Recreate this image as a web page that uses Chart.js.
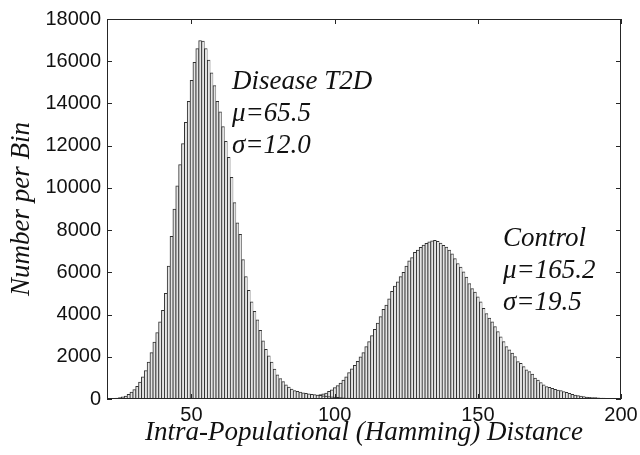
<!DOCTYPE html>
<html>
<head>
<meta charset="utf-8">
<script src="https://cdn.jsdelivr.net/npm/chart.js@4.4.1/dist/chart.umd.min.js"></script>
<style>
  body { margin: 0; background: #fff; }
  canvas { display: block; }
</style>
</head>
<body>
<canvas id="histChart" width="640" height="455"></canvas>
<script>
// histogram counts per unit bin, first bin is at distance 21
const binStart = 21;
const disease = [
  10, 20, 30, 45, 70, 100, 140, 220, 330, 450,
  600, 800, 1050, 1350, 1750, 2200, 2700, 3150, 3650, 4200,
  5000, 6300, 7700, 9000, 10100, 11100, 12100, 13100, 14100, 15100,
  15950, 16600, 16980, 16950, 16600, 16050, 15450, 14850, 14100, 13600,
  12900, 12200, 11450, 10500, 9300, 8350, 7800, 6600, 5800, 5150,
  4600, 4150, 3750, 3250, 2750, 2350, 2050, 1750, 1420, 1150,
  970, 820, 670, 560, 470, 400, 360, 330, 290, 265,
  245, 225, 205, 190, 170, 155, 140, 120, 105, 90,
  75, 65, 55, 48, 42, 36, 32, 28, 25, 22,
  20, 18, 16, 15, 14, 13, 12, 11, 10, 10,
  9, 9, 8, 8, 8, 7, 7, 7, 6, 6,
  6, 5, 5, 5, 5, 4, 4, 4, 4, 3,
  3, 3, 3, 3, 2, 2, 2, 2, 2, 2,
  1, 1, 1, 1, 1, 1, 1, 1, 1, 1,
  0, 0, 0, 0, 0, 0, 0, 0, 0, 0,
  0, 0, 0, 0, 0, 0, 0, 0, 0, 0,
  0, 0, 0, 0, 0, 0, 0, 0, 0, 0,
  0, 0, 0, 0, 0, 0, 0, 0, 0, 0
];
const control = [
  0, 0, 0, 0, 1, 1, 1, 1, 1, 1,
  1, 2, 2, 2, 2, 2, 3, 3, 3, 3,
  3, 4, 4, 4, 5, 5, 5, 6, 6, 7,
  7, 8, 8, 9, 10, 10, 11, 12, 13, 14,
  15, 16, 17, 18, 20, 21, 23, 25, 27, 29,
  31, 33, 36, 39, 42, 45, 48, 52, 56, 60,
  64, 68, 73, 78, 83, 88, 93, 97, 100, 105,
  120, 140, 160, 185, 210, 240, 280, 360, 440, 540,
  640, 750, 900, 1050, 1250, 1430, 1600, 1780, 2000, 2200,
  2480, 2720, 3000, 3300, 3600, 3900, 4250, 4450, 4750, 5100,
  5350, 5550, 5800, 6000, 6300, 6550, 6700, 6950, 7050, 7180,
  7290, 7370, 7440, 7490, 7520, 7470, 7390, 7280, 7200, 7050,
  6880, 6650, 6420, 6250, 6020, 5780, 5470, 5230, 5070, 4840,
  4600, 4300, 4050, 3830, 3660, 3430, 3190, 2950, 2720, 2480,
  2330, 2170, 2010, 1770, 1690, 1530, 1380, 1300, 1180, 990,
  900, 780, 670, 590, 550, 500, 460, 425, 395, 350,
  315, 270, 225, 190, 160, 140, 115, 95, 80, 68,
  62, 55, 48, 45, 35, 33, 32, 28, 18, 14
];
const bins = disease.map((_, i) => binStart + i);

const xTicks = [50, 100, 150, 200];
const yTicks = [0, 2000, 4000, 6000, 8000, 10000, 12000, 14000, 16000, 18000];

const diseaseNotes = ['Disease T2D', '\u03bc=65.5', '\u03c3=12.0'];
const controlNotes = ['Control', '\u03bc=165.2', '\u03c3=19.5'];

const toPoints = (vals) => vals.map((v, i) => ({ x: bins[i], y: v }));

const barStyle = {
  backgroundColor: '#e4e4e4',
  borderColor: '#303030',
  borderWidth: { top: 1, left: 1, right: 0.5, bottom: 0 },
  borderSkipped: false,
  barPercentage: 1,
  categoryPercentage: 1,
  grouped: false
};

// box round the plot and inward ticks on all four sides, plus the notes
const frame = {
  id: 'frame',
  afterDraw(chart) {
    const { ctx, chartArea: a, scales: { x, y } } = chart;
    ctx.save();
    ctx.strokeStyle = '#262626';
    ctx.lineWidth = 1;
    ctx.strokeRect(Math.round(a.left) + 0.5, Math.round(a.top) + 0.5,
      Math.round(a.right - a.left) - 1, Math.round(a.bottom - a.top) - 1);
    ctx.beginPath();
    xTicks.forEach(v => {
      const px = Math.round(x.getPixelForValue(v)) + 0.5;
      ctx.moveTo(px, a.bottom); ctx.lineTo(px, a.bottom - 5);
      ctx.moveTo(px, a.top); ctx.lineTo(px, a.top + 5);
    });
    yTicks.forEach(v => {
      const py = Math.round(y.getPixelForValue(v)) + 0.5;
      ctx.moveTo(a.left, py); ctx.lineTo(a.left + 5, py);
      ctx.moveTo(a.right, py); ctx.lineTo(a.right - 5, py);
    });
    ctx.stroke();

    ctx.fillStyle = '#111';
    ctx.font = 'italic 27px "Liberation Serif"';
    ctx.textBaseline = 'alphabetic';
    diseaseNotes.forEach((t, i) => ctx.fillText(t, 232, 89 + i * 32));
    controlNotes.forEach((t, i) => ctx.fillText(t, 503, 246 + i * 32));
    ctx.restore();
  }
};

const ctx = document.getElementById('histChart').getContext('2d');
const histChart = new Chart(ctx, {
  type: 'bar',
  data: {
    datasets: [
      { label: 'Disease T2D', data: toPoints(disease), ...barStyle },
      { label: 'Control', data: toPoints(control), ...barStyle }
    ]
  },
  options: {
    responsive: false,
    animation: false,
    layout: { padding: { left: 0, right: 19, top: 19, bottom: 0 } },
    plugins: { legend: { display: false }, tooltip: { enabled: false } },
    scales: {
      x: {
        type: 'linear',
        min: 20.5,
        max: 200,
        offset: false,
        grid: { display: false, drawTicks: false },
        border: { display: false },
        afterBuildTicks: (s) => { s.ticks = xTicks.map(v => ({ value: v })); },
        afterFit: (s) => { s.height = 56; s.paddingLeft = 0; s.paddingRight = 0; },
        ticks: {
          color: '#111',
          padding: 4,
          maxRotation: 0,
          callback: (v) => String(v),
          font: { family: '"Liberation Sans", Arial', size: 20 }
        },
        title: {
          display: true,
          text: 'Intra-Populational (Hamming) Distance',
          color: '#111',
          padding: { top: 0, bottom: 6 },
          font: { family: '"Liberation Serif"', style: 'italic', size: 27 }
        }
      },
      y: {
        min: 0,
        max: 18000,
        grid: { display: false, drawTicks: false },
        border: { display: false },
        afterBuildTicks: (s) => { s.ticks = yTicks.map(v => ({ value: v })); },
        afterFit: (s) => { s.width = 107; s.paddingTop = 0; s.paddingBottom = 0; },
        ticks: {
          color: '#111',
          padding: 6,
          callback: (v) => String(v),
          font: { family: '"Liberation Sans", Arial', size: 20 }
        },
        title: {
          display: true,
          text: 'Number per Bin',
          color: '#111',
          padding: { top: 6, bottom: 0 },
          font: { family: '"Liberation Serif"', style: 'italic', size: 27 }
        }
      }
    }
  },
  plugins: [frame]
});
</script>
</body>
</html>
